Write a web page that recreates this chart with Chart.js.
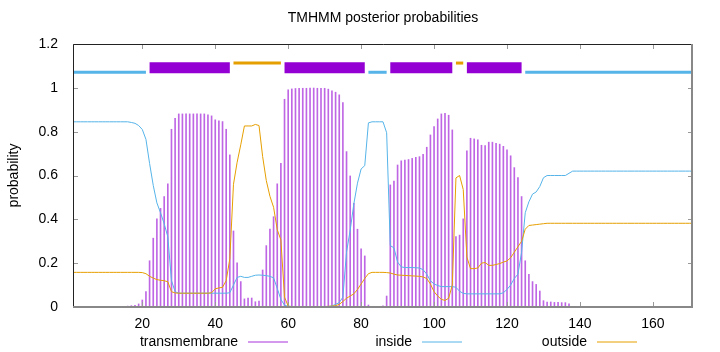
<!DOCTYPE html>
<html>
<head>
<meta charset="utf-8">
<title>TMHMM posterior probabilities</title>
<script src="https://cdn.jsdelivr.net/npm/chart.js@4.4.1/dist/chart.umd.min.js"></script>
<style>
  html, body { margin: 0; padding: 0; background: #fff; }
</style>
</head>
<body>
<canvas id="tmhmm" width="720" height="352"></canvas>
<script>
// posterior probabilities per residue (1..171)
const tmProb = [
  0, 0, 0, 0, 0, 0, 0, 0, 0, 0,
  0, 0, 0, 0, 0.002, 0.004, 0.006, 0.008, 0.014, 0.032,
  0.07, 0.211, 0.314, 0.402, 0.45, 0.504, 0.562, 0.811, 0.861, 0.881,
  0.881, 0.881, 0.881, 0.881, 0.881, 0.881, 0.881, 0.877, 0.872, 0.854,
  0.85, 0.846, 0.811, 0.694, 0.347, 0.202, 0.116, 0.037, 0.041, 0.041,
  0.024, 0.027, 0.169, 0.28, 0.355, 0.412, 0.562, 0.656, 0.948, 0.991,
  0.995, 0.997, 0.998, 0.998, 0.998, 0.999, 0.999, 0.998, 0.998, 0.998,
  0.994, 0.986, 0.98, 0.968, 0.933, 0.709, 0.598, 0.473, 0.355, 0.265,
  0.233, 0.009, 0.002, 0.001, 0.001, 0.005, 0.05, 0.557, 0.575, 0.648,
  0.667, 0.67, 0.673, 0.678, 0.683, 0.686, 0.697, 0.729, 0.785, 0.823,
  0.858, 0.881, 0.884, 0.875, 0.808, 0.321, 0.328, 0.402, 0.712, 0.77,
  0.767, 0.763, 0.738, 0.737, 0.752, 0.752, 0.747, 0.743, 0.733, 0.717,
  0.69, 0.636, 0.591, 0.504, 0.211, 0.149, 0.116, 0.103, 0.073, 0.029,
  0.023, 0.023, 0.021, 0.021, 0.02, 0.02, 0.015, 0, 0, 0,
  0, 0, 0, 0, 0, 0, 0, 0, 0, 0,
  0, 0, 0, 0, 0, 0, 0, 0, 0, 0,
  0, 0, 0, 0, 0, 0, 0, 0, 0, 0,
  0
];

const insideProb = [
  0.845, 0.845, 0.845, 0.845, 0.845, 0.845, 0.845, 0.845, 0.845, 0.845,
  0.845, 0.845, 0.845, 0.845, 0.845, 0.845, 0.842, 0.838, 0.828, 0.81,
  0.765, 0.655, 0.555, 0.475, 0.43, 0.38, 0.32, 0.12, 0.07, 0.063,
  0.063, 0.063, 0.063, 0.063, 0.063, 0.063, 0.063, 0.063, 0.063, 0.063,
  0.063, 0.063, 0.063, 0.065, 0.1, 0.135, 0.14, 0.135, 0.135, 0.14,
  0.145, 0.146, 0.145, 0.143, 0.14, 0.133, 0.085, 0.035, 0.008, 0.003,
  0.002, 0.002, 0.002, 0.002, 0.002, 0.002, 0.002, 0.002, 0.002, 0.002,
  0.002, 0.005, 0.012, 0.02, 0.045, 0.25, 0.35, 0.47, 0.565, 0.63,
  0.645, 0.84, 0.845, 0.845, 0.845, 0.845, 0.795, 0.28, 0.27, 0.205,
  0.183, 0.18, 0.18, 0.18, 0.179, 0.178, 0.17, 0.15, 0.12, 0.105,
  0.098, 0.093, 0.093, 0.093, 0.093, 0.09, 0.072, 0.062, 0.06, 0.06,
  0.06, 0.06, 0.06, 0.06, 0.06, 0.06, 0.06, 0.06, 0.065, 0.08,
  0.1, 0.13, 0.15, 0.25, 0.43, 0.48, 0.515, 0.525, 0.55, 0.59,
  0.6, 0.6, 0.6, 0.6, 0.6, 0.6, 0.61, 0.62, 0.62, 0.62,
  0.62, 0.62, 0.62, 0.62, 0.62, 0.62, 0.62, 0.62, 0.62, 0.62,
  0.62, 0.62, 0.62, 0.62, 0.62, 0.62, 0.62, 0.62, 0.62, 0.62,
  0.62, 0.62, 0.62, 0.62, 0.62, 0.62, 0.62, 0.62, 0.62, 0.62,
  0.62
];

const outsideProb = [
  0.158, 0.158, 0.158, 0.158, 0.158, 0.158, 0.158, 0.158, 0.158, 0.158,
  0.158, 0.158, 0.158, 0.158, 0.158, 0.158, 0.158, 0.158, 0.158, 0.157,
  0.152, 0.14, 0.132, 0.125, 0.122, 0.12, 0.115, 0.07, 0.064, 0.063,
  0.063, 0.063, 0.063, 0.063, 0.063, 0.063, 0.063, 0.063, 0.065, 0.083,
  0.087, 0.09, 0.12, 0.22, 0.56, 0.66, 0.74, 0.826, 0.826, 0.826,
  0.833, 0.828, 0.686, 0.577, 0.505, 0.455, 0.353, 0.306, 0.045, 0.004,
  0.002, 0.002, 0.002, 0.002, 0.002, 0.002, 0.002, 0.002, 0.002, 0.002,
  0.003, 0.004, 0.006, 0.012, 0.025, 0.04, 0.05, 0.06, 0.08, 0.105,
  0.13, 0.152, 0.158, 0.158, 0.158, 0.158, 0.157, 0.155, 0.15, 0.146,
  0.145, 0.144, 0.143, 0.142, 0.141, 0.14, 0.137, 0.13, 0.105, 0.07,
  0.05, 0.035, 0.03, 0.04, 0.1, 0.589, 0.6, 0.536, 0.228, 0.175,
  0.175, 0.178, 0.2, 0.203, 0.19, 0.19, 0.194, 0.198, 0.205, 0.21,
  0.225, 0.25, 0.275, 0.3, 0.355, 0.372, 0.374, 0.376, 0.378, 0.38,
  0.382, 0.382, 0.382, 0.382, 0.382, 0.382, 0.382, 0.382, 0.382, 0.382,
  0.382, 0.382, 0.382, 0.382, 0.382, 0.382, 0.382, 0.382, 0.382, 0.382,
  0.382, 0.382, 0.382, 0.382, 0.382, 0.382, 0.382, 0.382, 0.382, 0.382,
  0.382, 0.382, 0.382, 0.382, 0.382, 0.382, 0.382, 0.382, 0.382, 0.382,
  0.382
];

// predicted topology (segment bars above the curves)
const segStart = [1, 22, 45, 59, 82, 88, 106, 109, 125];
const segEnd   = [21, 44, 58, 81, 87, 105, 108, 124, 171];
const segKind  = ['outside', 'TMhelix', 'inside', 'TMhelix', 'outside', 'TMhelix', 'inside', 'TMhelix', 'outside'];

const xTickVals = [20, 40, 60, 80, 100, 120, 140, 160];
const xTickLabels = ['20', '40', '60', '80', '100', '120', '140', '160'];
const yTickVals = [0, 0.2, 0.4, 0.6, 0.8, 1, 1.2];
const yTickLabels = ['0', '0.2', '0.4', '0.6', '0.8', '1', '1.2'];

const seriesLabels = ['transmembrane', 'inside', 'outside'];
const chartTitle = 'TMHMM posterior probabilities';

const FONT = "'Liberation Sans', Arial, sans-serif";
const PURPLE = '#9400d3';
const BLUE = '#56b4e9';
const ORANGE = '#e69f00';

const residue = tmProb.map((_, i) => i + 1);
const toPoints = arr => arr.map((v, i) => ({ x: residue[i], y: v }));

// bar style per segment kind
const segStyle = {
  outside: { color: BLUE, level: 1.071, width: 3 },
  inside: { color: ORANGE, level: 1.113, width: 3 },
  TMhelix: { color: PURPLE, level: 1.092, width: 11 }
};

const datasets = [
  {
    type: 'bar',
    label: seriesLabels[0],
    data: toPoints(tmProb),
    backgroundColor: 'rgba(148, 0, 211, 0.6)',
    borderWidth: 0,
    barThickness: 1,
    order: 3,
    keyColor: 'rgba(148, 0, 211, 0.8)'
  },
  {
    type: 'line',
    label: seriesLabels[1],
    data: toPoints(insideProb),
    borderColor: BLUE,
    borderWidth: 1,
    pointRadius: 0,
    tension: 0,
    order: 2,
    keyColor: BLUE
  },
  {
    type: 'line',
    label: seriesLabels[2],
    data: toPoints(outsideProb),
    borderColor: ORANGE,
    borderWidth: 1,
    pointRadius: 0,
    tension: 0,
    order: 1,
    keyColor: ORANGE
  }
];

segStart.forEach((s, i) => {
  const st = segStyle[segKind[i]];
  datasets.push({
    type: 'line',
    label: segKind[i],
    data: [{ x: s, y: st.level }, { x: segEnd[i], y: st.level }],
    borderColor: st.color,
    borderWidth: st.width,
    borderCapStyle: 'butt',
    pointRadius: 0,
    order: 0
  });
});

// gnuplot-like frame with inward ticks
const framePlugin = {
  id: 'frame',
  afterDatasetsDraw(chart) {
    const { ctx, chartArea: a, scales } = chart;
    ctx.save();
    ctx.strokeStyle = '#999';
    ctx.lineWidth = 1;
    ctx.beginPath();
    scales.x.ticks.forEach(t => {
      const px = Math.round(scales.x.getPixelForValue(t.value)) + 0.5;
      ctx.moveTo(px, a.bottom); ctx.lineTo(px, a.bottom - 5);
      ctx.moveTo(px, a.top); ctx.lineTo(px, a.top + 5);
    });
    scales.y.ticks.forEach(t => {
      const py = Math.round(scales.y.getPixelForValue(t.value)) + 0.5;
      ctx.moveTo(a.left, py); ctx.lineTo(a.left + 5, py);
      ctx.moveTo(a.right, py); ctx.lineTo(a.right - 5, py);
    });
    ctx.stroke();

    // top + left: dark
    ctx.strokeStyle = '#222';
    ctx.beginPath();
    ctx.moveTo(a.left + 0.5, a.bottom);
    ctx.lineTo(a.left + 0.5, a.top + 0.5);
    ctx.lineTo(a.right, a.top + 0.5);
    ctx.stroke();
    // bottom + right: grey, thicker
    ctx.strokeStyle = '#888';
    ctx.lineWidth = 2;
    ctx.beginPath();
    ctx.moveTo(a.left, a.bottom);
    ctx.lineTo(a.right - 1, a.bottom);
    ctx.lineTo(a.right - 1, a.top);
    ctx.stroke();
    ctx.restore();
  }
};

// title + key (text right aligned, sample to its right)
const keyTextEnd = [238, 412, 587];
const textPlugin = {
  id: 'gnuText',
  afterDraw(chart) {
    const { ctx, chartArea: a } = chart;
    ctx.save();
    ctx.fillStyle = '#000';
    ctx.font = '14px ' + FONT;
    ctx.textBaseline = 'middle';
    ctx.textAlign = 'center';
    ctx.fillText(chartTitle, (a.left + a.right) / 2, 18);

    ctx.textAlign = 'right';
    ctx.lineWidth = 1;
    seriesLabels.forEach((lab, i) => {
      const xe = keyTextEnd[i];
      ctx.fillText(lab, xe, 342);
      ctx.strokeStyle = chart.data.datasets[i].keyColor;
      ctx.beginPath();
      ctx.moveTo(xe + 10, 342);
      ctx.lineTo(xe + 50, 342);
      ctx.stroke();
    });
    ctx.restore();
  }
};

Chart.defaults.font.family = FONT;
Chart.defaults.font.size = 14;
Chart.defaults.color = '#000';

new Chart(document.getElementById('tmhmm'), {
  type: 'line',
  data: { datasets },
  plugins: [framePlugin, textPlugin],
  options: {
    responsive: false,
    animation: false,
    devicePixelRatio: 1,
    layout: { padding: { top: 44, right: 27, left: 0, bottom: 0 } },
    plugins: {
      legend: { display: false },
      title: { display: false },
      tooltip: { enabled: false }
    },
    scales: {
      x: {
        type: 'linear',
        min: 1,
        max: 171,
        offset: false,
        grid: { display: false },
        border: { display: false },
        afterBuildTicks: s => { s.ticks = xTickVals.map(v => ({ value: v })); },
        afterFit: s => { s.height = 45; },
        ticks: {
          padding: 1,
          maxRotation: 0,
          autoSkip: false,
          callback: (v, i) => xTickLabels[i]
        }
      },
      y: {
        min: 0,
        max: 1.2,
        grid: { display: false },
        border: { display: false },
        afterBuildTicks: s => { s.ticks = yTickVals.map(v => ({ value: v })); },
        afterFit: s => { s.width = 73; },
        title: {
          display: true,
          text: 'probability',
          padding: { top: 6, bottom: 0 }
        },
        ticks: {
          padding: 7,
          autoSkip: false,
          callback: (v, i) => yTickLabels[i]
        }
      }
    }
  }
});
</script>
</body>
</html>
